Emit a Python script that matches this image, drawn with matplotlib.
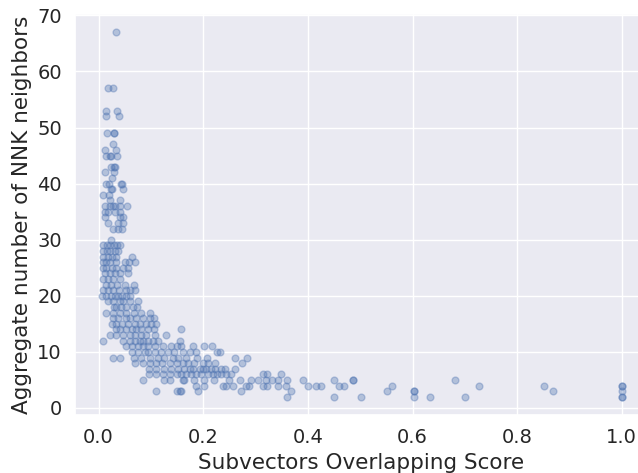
import matplotlib
matplotlib.use("Agg")
import matplotlib.pyplot as plt
import seaborn as sns

# overlap score (x) and aggregate NNK neighbor count (y)
score = [
    0.034,
    0.018, 0.027,
    0.014, 0.036,
    0.014, 0.039,
    0.016, 0.029, 0.030,
    0.028,
    0.013, 0.033,
    0.015, 0.021, 0.023, 0.035,
    0.023, 0.029, 0.032,
    0.013, 0.029,
    0.025,
    0.014, 0.019, 0.043, 0.044,
    0.023, 0.025, 0.047,
    0.008, 0.020,
    0.022, 0.040,
    0.013, 0.022, 0.028, 0.032, 0.041, 0.055,
    0.012, 0.018, 0.031, 0.041,
    0.013, 0.041, 0.047,
    0.018, 0.037, 0.046,
    0.028, 0.037, 0.045,
    0.023,
    0.008, 0.017, 0.022, 0.030, 0.035, 0.041,
    0.009, 0.017, 0.022, 0.031, 0.037,
    0.009, 0.018, 0.025, 0.034, 0.063,
    0.009, 0.015, 0.022, 0.033, 0.050, 0.058, 0.069,
    0.008, 0.015, 0.025, 0.034, 0.047, 0.057,
    0.012, 0.022, 0.031, 0.041, 0.057,
    0.009, 0.018, 0.028, 0.041,
    0.015, 0.023, 0.036, 0.050, 0.067,
    0.009, 0.018, 0.028, 0.039, 0.052, 0.060, 0.069,
    0.006, 0.015, 0.023, 0.031, 0.037, 0.044, 0.052, 0.061,
    0.018, 0.028, 0.041, 0.047, 0.061, 0.075,
    0.029, 0.033, 0.042, 0.052, 0.066, 0.074,
    0.014, 0.028, 0.041, 0.053, 0.067, 0.082, 0.099,
    0.028, 0.037, 0.052, 0.060, 0.072, 0.085, 0.098, 0.105,
    0.025, 0.034, 0.044, 0.057, 0.069, 0.079, 0.091, 0.101, 0.110,
    0.033, 0.041, 0.053, 0.063, 0.072, 0.082, 0.095, 0.105, 0.158,
    0.022, 0.034, 0.047, 0.060, 0.069, 0.082, 0.091, 0.107, 0.128,
    0.008, 0.047, 0.060, 0.069, 0.079, 0.085, 0.095, 0.104, 0.114, 0.155,
    0.052, 0.063, 0.075, 0.085, 0.095, 0.107, 0.124, 0.139, 0.149, 0.158, 0.180, 0.201, 0.217,
    0.063, 0.075, 0.088, 0.095, 0.107, 0.120, 0.133, 0.145, 0.161, 0.174, 0.187, 0.227, 0.233,
    0.027, 0.041, 0.067, 0.082, 0.098, 0.114, 0.126, 0.142, 0.152, 0.168, 0.189, 0.208, 0.261, 0.284,
    0.069, 0.085, 0.098, 0.110, 0.122, 0.136, 0.149, 0.161, 0.171, 0.183, 0.199, 0.209, 0.222, 0.274,
    0.097, 0.110, 0.126, 0.139, 0.152, 0.164, 0.174, 0.180, 0.193, 0.199, 0.206, 0.215, 0.222, 0.234,
    0.241, 0.260,
    0.097, 0.109, 0.123, 0.136, 0.149, 0.158, 0.168, 0.177, 0.187, 0.196, 0.209, 0.218, 0.227, 0.234,
    0.244, 0.253, 0.314, 0.322, 0.349,
    0.085, 0.126, 0.136, 0.161, 0.164, 0.183, 0.201, 0.220, 0.250, 0.271, 0.291, 0.304, 0.320, 0.331,
    0.342, 0.361, 0.390, 0.450, 0.487, 0.487, 0.681,
    0.187, 0.201, 0.237, 0.244, 0.257, 0.282, 0.288, 0.314, 0.322, 0.342, 0.358, 0.401, 0.415, 0.425,
    0.460, 0.469, 0.561, 0.727, 0.852, 1.0, 1.0,
    0.109, 0.149, 0.155, 0.158, 0.190, 0.272, 0.368, 0.552, 0.602, 0.602, 0.868, 1.0,
    0.361, 0.450, 0.501, 0.602, 0.634, 0.701, 1.0, 1.0,
]

neighbors = (
    [67] * 1 + [57] * 2 + [53] * 2 + [52] * 2 + [49] * 3 + [47] * 1 + [46] * 2 + [45] * 4
    + [43] * 3 + [42] * 2 + [41] * 1 + [40] * 4 + [39] * 3 + [38] * 2 + [37] * 2 + [36] * 6
    + [35] * 4 + [34] * 3 + [33] * 3 + [32] * 3 + [30] * 1 + [29] * 6 + [28] * 5 + [27] * 5
    + [26] * 7 + [25] * 6 + [24] * 5 + [23] * 4 + [22] * 5 + [21] * 7 + [20] * 8 + [19] * 6
    + [18] * 6 + [17] * 7 + [16] * 8 + [15] * 9 + [14] * 9 + [13] * 9 + [12] * 10 + [11] * 13
    + [10] * 13 + [9] * 14 + [8] * 14 + [7] * 16 + [6] * 19 + [5] * 21 + [4] * 21 + [3] * 12
    + [2] * 8
)

sns.set_theme(style="darkgrid")

fig = plt.figure(figsize=(6.38, 4.73), dpi=100)
ax = fig.add_axes([0.1176, 0.1226, 0.898, 0.8478])
ax.scatter(score, neighbors, s=24, alpha=0.35, color="#4c72b0")

ax.set_xlim(-0.045, 1.05)
ax.set_ylim(-1.25, 70.25)
ax.set_xticks([0.0, 0.2, 0.4, 0.6, 0.8, 1.0])
ax.set_yticks(range(0, 71, 10))
ax.tick_params(labelsize=14)
ax.set_xlabel("Subvectors Overlapping Score", fontsize=15.5)
ax.set_ylabel("Aggregate number of NNK neighbors", fontsize=15.5)

fig.savefig("out.png", dpi=100)
